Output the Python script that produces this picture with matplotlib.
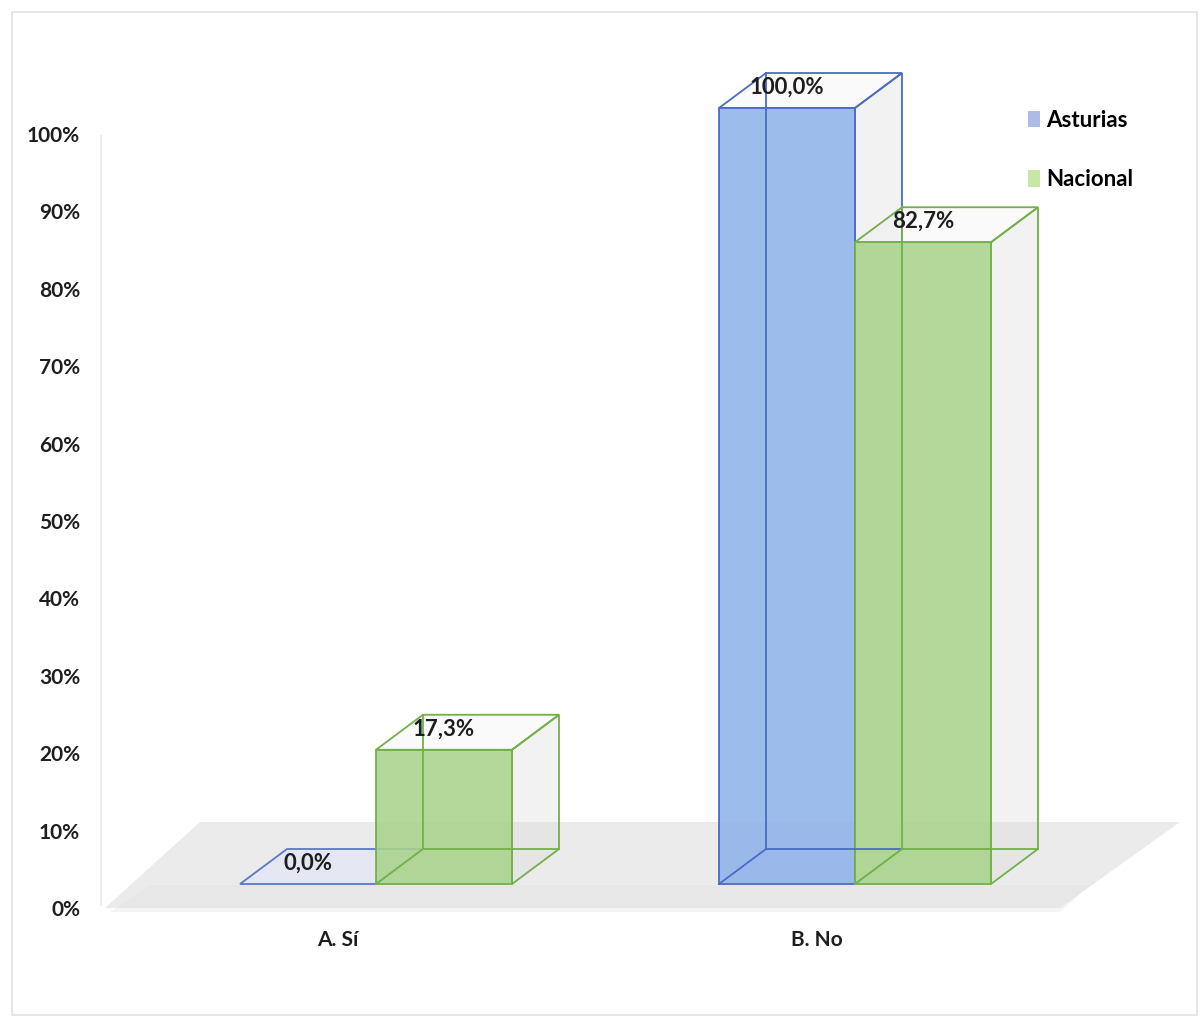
import matplotlib.pyplot as plt
from matplotlib.patches import Polygon, Rectangle, Patch

categories = ['A. Sí', 'B. No']
series = ['Asturias', 'Nacional']
asturias = [0.0, 100.0]
nacional = [17.3, 82.7]
tick_values = [0, 10, 20, 30, 40, 50, 60, 70, 80, 90, 100]

plt.rcParams['font.family'] = ['Lato', 'DejaVu Sans']

# layout (pixel scale of the fake 3d box)
W, H = 1203, 1019
X0, PX_X = 376, 479      # pixel x of first category centre, pixels per category
Y0, PX_Y = 884, 7.76     # pixel y of value 0 on the front face, pixels per %
bar_w = 136 / PX_X
dx = 47 / PX_X           # depth offset
dy = 35 / PX_Y

face_cols = ['#8fb3ea', '#a8d48c']
edge_cols = ['#4a6cc4', '#74b04a']
zero_fill = '#e4e7f3'

fig = plt.figure(figsize=(W / 100, H / 100), dpi=100)
ax = fig.add_axes([0, 0, 1, 1])
ax.set_xlim(-X0 / PX_X, (W - X0) / PX_X)
ax.set_ylim(-(H - Y0) / PX_Y, Y0 / PX_Y)
ax.axis('off')

def px(x, y):
    return ((x - X0) / PX_X, (Y0 - y) / PX_Y)

# outer frame and left axis line
ax.add_patch(Rectangle((0.01, 0.004), 0.985, 0.984, transform=ax.transAxes,
                       fill=False, ec='#e2e2e2', lw=1.2))
ax.plot(*zip(px(101, 136), px(101, 905)), color='#ededed', lw=1.5)

# floor
floor = [px(105, 908), px(200, 822), px(1180, 822), px(1060, 908)]
ax.add_patch(Polygon(floor, closed=True, fc='#e8e8e8', ec='none', alpha=0.85))
floor2 = [px(110, 912), px(150, 885), px(1090, 885), px(1060, 912)]
ax.add_patch(Polygon(floor2, closed=True, fc='#e0e0e0', ec='none', alpha=0.35))


def draw_box(x0, v, fc, ec):
    x1 = x0 + bar_w
    if v == 0:
        pts = [(x0, 0), (x0 + dx, dy), (x1 + dx, dy), (x1, 0)]
        ax.add_patch(Polygon(pts, closed=True, fc=zero_fill, ec=ec, lw=1.3, alpha=0.9))
        return
    side = [(x1, 0), (x1 + dx, dy), (x1 + dx, v + dy), (x1, v)]
    top = [(x0, v), (x0 + dx, v + dy), (x1 + dx, v + dy), (x1, v)]
    ax.add_patch(Polygon(side, closed=True, fc='#dcdcdc', ec='none', alpha=0.35))
    ax.add_patch(Polygon(top, closed=True, fc='#eeeeee', ec='none', alpha=0.25))
    ax.add_patch(Polygon(side, closed=True, fill=False, ec=ec, lw=1.3))
    ax.add_patch(Polygon(top, closed=True, fill=False, ec=ec, lw=1.3))
    # hidden back edges
    ax.plot([x0 + dx, x0 + dx], [dy, v + dy], color=ec, lw=1.3)
    ax.plot([x0 + dx, x1 + dx], [dy, dy], color=ec, lw=1.3)
    ax.plot([x0, x0 + dx], [0, dy], color=ec, lw=1.3)
    # front face
    ax.add_patch(Rectangle((x0, 0), bar_w, v, fc=fc, ec='none', alpha=0.88))
    ax.add_patch(Rectangle((x0, 0), bar_w, v, fill=False, ec=ec, lw=1.3))


for i, cat in enumerate(categories):
    for j, vals in enumerate([asturias, nacional]):
        x0 = i - bar_w + j * bar_w
        v = vals[i]
        draw_box(x0, v, face_cols[j], edge_cols[j])
        label = f'{v:.1f}%'.replace('.', ',')
        ax.text(x0 + bar_w / 2, v + dy * 0.6, label, ha='center', va='center',
                fontsize=16, fontweight='bold', color='#1e1e1e', zorder=5)
    ax.text(i - 38 / PX_X, -56 / PX_Y, cat, ha='center', va='center',
            fontsize=15, fontweight='bold', color='#1e1e1e')

# y tick labels sit on the back wall
for t in tick_values:
    ax.text((80 - X0) / PX_X, t * 7.74 / PX_Y - 26 / PX_Y, f'{t}%', ha='right',
            va='center', fontsize=15, fontweight='bold', color='#1e1e1e')

handles = [Patch(fc='#aebbe8', ec='none'), Patch(fc='#c8e6a6', ec='none')]
ax.legend(handles, series, loc='upper left', bbox_to_anchor=(1008 / W, 1 - 90 / H),
          frameon=False, prop={'weight': 'bold', 'size': 16}, handlelength=0.55,
          handleheight=0.75, handletextpad=0.25, labelspacing=1.72)

fig.savefig('out.png', dpi=100)
